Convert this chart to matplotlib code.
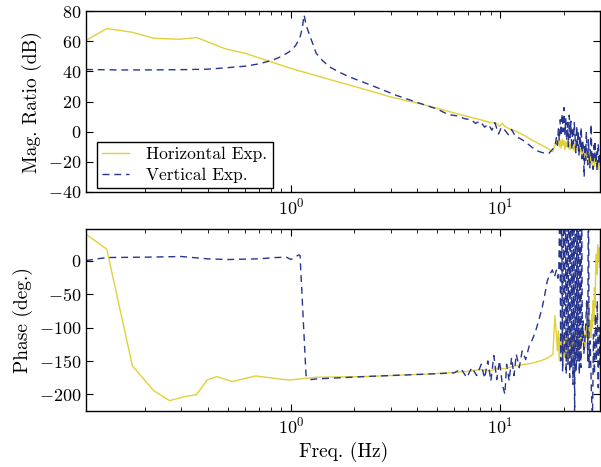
import matplotlib
matplotlib.use("Agg")
import matplotlib.pyplot as plt
from matplotlib.ticker import LogLocator, NullFormatter

plt.rcParams['font.family'] = 'serif'
plt.rcParams['font.serif'] = ['cmr10']
plt.rcParams['mathtext.fontset'] = 'cm'
plt.rcParams['axes.formatter.use_mathtext'] = True

yellow = '#E2D03A'
blue = '#27358F'

# Horizontal exp. - magnitude (dB)
h_freq = [0.105, 0.132, 0.175, 0.222, 0.294, 0.355, 0.486, 0.606, 0.818, 1.0, 1.5, 2.2, 3.0, 4.15,
          5.0, 6.0, 7.0, 8.0, 9.0, 9.6, 9.9, 10.2, 10.5, 11.0, 12.0, 13.0, 14.1, 15.5, 16.5, 17.3,
          17.8, 18.2, 18.5,
          18.7, 18.9, 19.1, 19.3, 19.5, 19.7, 19.9, 20.1, 20.3, 20.5, 20.7, 20.9, 21.1, 21.3, 21.5,
          21.7, 21.9, 22.1, 22.3, 22.5, 22.7, 22.9, 23.1, 23.3, 23.5, 23.7, 23.9, 24.1, 24.3, 24.5,
          24.7, 24.9, 25.1, 25.3, 25.5, 25.7, 25.9, 26.1, 26.3, 26.5, 26.7, 26.9, 27.1, 27.3, 27.5,
          27.7, 27.9, 28.1, 28.3, 28.5, 28.7, 28.9, 29.1, 29.3, 29.5, 29.7, 29.9]
h_mag = [60.5, 68.5, 66, 62, 61.4, 62.5, 55, 52, 46, 42, 35, 28.5, 23, 18.5,
         15.5, 12.5, 10, 8, 6, 5.5, 3.5, 5.5, 3.5, 2, 0, -2.5, -5.5, -8.5, -10.5, -12.5,
         -13.3, -9, -6,
         -9, -5, -10, -6, -11, -5, -9, -6, -12, -7, -10, -5, -11, -7, -12,
         -8, -10, -6, -12, -8, -13, -9, -12, -7, -13, -10, -14, -8, -12, -15,
         -10, -16, -11, -14, -18, -12, -17, -13, -19, -15, -21, -14, -18, -22, -16,
         -20, -15, -23, -18, -21, -17, -24, -19, -25, -18, -22, -20]

# Vertical exp. - magnitude (dB)
v_freq = [0.105, 0.15, 0.2, 0.3, 0.4, 0.486, 0.606, 0.7, 0.818, 0.9, 0.98, 1.05, 1.1, 1.13,
          1.155, 1.18, 1.22, 1.27, 1.32, 1.42, 1.53, 1.7, 1.9, 2.2, 2.5, 3.2, 4.3, 5.0, 5.6, 6.2,
          6.8, 7.25, 7.6, 8.0, 8.4, 8.75, 9.1, 9.4, 9.8, 10.1, 10.5, 10.9, 11.3, 11.8, 12.4, 13.1,
          13.9, 14.7, 15.5, 16.4, 17.0, 17.6, 18.0, 18.3,
          18.5, 18.7, 18.9, 19.1, 19.3, 19.5, 19.7, 19.9, 20.1, 20.3, 20.5, 20.7, 20.9, 21.1, 21.3,
          21.5, 21.7, 21.9, 22.1, 22.3, 22.5, 22.7, 22.9, 23.1, 23.3, 23.5, 23.7, 23.9, 24.1, 24.3,
          24.5, 24.7, 24.9, 25.1, 25.3, 25.5, 25.7, 25.9, 26.1, 26.3, 26.5, 26.7, 26.9, 27.1, 27.3,
          27.5, 27.7, 27.9, 28.1, 28.3, 28.5, 28.7, 28.9, 29.1, 29.3, 29.5, 29.7, 29.9]
v_mag = [41.3, 41, 41, 41.2, 41.5, 42.4, 43.5, 45, 47.5, 50, 53, 57, 62, 68,
         77.5, 71, 65, 58.5, 52, 47, 43, 39.5, 36.4, 33, 30, 24, 18, 15, 11.5, 10.5,
         8.5, 8, 5.5, 7, 3, 5, 1, 6, -1.5, 3, 1, -2, 1.5, -3.3, -4.5, -6.6,
         -9.5, -12.2, -13.5, -14.4, -14.5, -12.2, -10.5, -7.7,
         -4, -9, 2, -6, 8, -3, 12, 0, 16, -2, 9, -6, 6, -10, 11,
         -4, 7, -12, 3, -8, 6, -3, -14, 4, -9, 1, -16, -2, -11, 3,
         -18, -6, -13, -30, -8, -19, 0, -12, -22, -5, -16, -24, -10, 5, -20,
         -13, -25, -9, -17, -6, -21, -12, -26, -14, -8, -22, -15, -19]

# Horizontal exp. - phase (deg)
hp_freq = [0.105, 0.132, 0.175, 0.221, 0.263, 0.311, 0.354, 0.398, 0.442, 0.526, 0.677, 0.785,
           0.895, 1.0, 1.06, 1.32, 2.22, 4.65, 6.75, 8.0, 9.0, 9.8, 10.5, 11.5, 12.5, 14.1, 15.5,
           16.7, 17.3, 17.8, 18.0, 18.2,
           18.5, 18.7, 18.9, 19.1, 19.3, 19.5, 19.7, 19.9, 20.1, 20.3, 20.5, 20.7, 20.9, 21.1,
           21.3, 21.5, 21.7, 21.9, 22.1, 22.3, 22.5, 22.7, 22.9, 23.1, 23.3, 23.5, 23.7, 23.9,
           24.1, 24.3, 24.5, 24.7, 24.9, 25.1, 25.3, 25.5, 25.7, 25.9, 26.1, 26.3, 26.5, 26.7,
           26.9, 27.1, 27.3, 27.5, 27.7, 27.9, 28.1, 28.3, 28.5, 28.7, 28.9, 29.1, 29.3, 29.5,
           29.7, 29.9]
h_phase = [40, 17.5, -157.5, -194.5, -209.5, -203.5, -200.5, -178.5, -173.5, -181, -172.5, -175,
           -177.5, -178.5, -177.5, -174.5, -173.5, -169.5, -166, -163, -165, -160, -162, -158, -156,
           -153.5, -150, -146, -143, -140, -110, -82,
           -110, -135, -105, -150, -115, -140, -100, -160, -120, -145, -110, -135, -115, -150,
           -125, -140, -105, -130, -115, -145, -120, -135, -110, -130, -100, -125, -140, -115,
           -130, -105, -120, -95, -125, -110, -130, -100, -115, -95, -120, -100, -65, -110,
           -90, -115, -80, -100, -60, -90, -40, -70, -10, 10, -20, 24, 0, 20,
           -10, 15]

# Vertical exp. - phase (deg)
vp_freq = [0.105, 0.132, 0.2, 0.3, 0.4, 0.5, 0.7, 0.85, 0.95, 1.0, 1.09, 1.105, 1.18, 1.25,
           1.32, 2.22, 4.65, 6.0, 6.5, 6.9, 7.3, 7.7, 8.1, 8.4, 8.7, 9.0, 9.3, 9.6, 9.9, 10.2,
           10.5, 10.7, 11.0, 11.3, 11.6, 11.9, 12.3, 12.7, 13.2, 13.7, 14.2, 14.7, 15.2, 15.8,
           16.3, 16.7, 17.2, 17.7, 18.1, 18.5, 18.8,
           19.0, 19.2, 19.4, 19.6, 19.8, 20.0, 20.2, 20.4, 20.6, 20.8, 21.0, 21.2, 21.4, 21.6,
           21.8, 22.0, 22.2, 22.4, 22.6, 22.8, 23.0, 23.2, 23.4, 23.6, 23.8, 24.0, 24.2, 24.4,
           24.6, 24.8, 25.0, 25.4, 25.8, 26.1, 26.3, 26.5, 26.8, 27.2, 27.5, 27.8, 28.1, 28.4,
           28.7, 29.0, 29.3, 29.6, 29.9]
v_phase = [0.5, 5, 5.5, 6.5, 3, 2, 3, 5, 5.5, 2, 9, 8, -172, -178,
           -177, -173.5, -169.5, -168, -162, -175, -160, -172, -155, -176, -150, -180, -142, -178,
           -150, -185, -200, -155, -180, -145, -172, -140, -160, -135, -148, -128, -118, -106,
           -90, -71, -50, -31, -20, -13.5, -24, -14, -26,
           -10, 90, -150, 110, -165, 80, -140, 120, -170, 95, -155, 130, -175, 100,
           -160, 115, -185, 90, -245, 105, -165, 125, -150, 100, -170, 85, -160, 110,
           -120, -90, -140, -110, -60, -150, 150, -160, -120, -200, -240, -110, -170, -80,
           -150, -60, -190, -100, -160]

fig = plt.figure(figsize=(6.01, 4.67), dpi=100)
ax1 = fig.add_axes([0.143, 0.589, 0.856, 0.387])
ax2 = fig.add_axes([0.143, 0.120, 0.856, 0.390])

ax1.semilogx(h_freq, h_mag, color=yellow, lw=1.0, label='Horizontal Exp.')
ax1.semilogx(v_freq, v_mag, color=blue, lw=1.0, ls='--', dashes=(5, 3.5), label='Vertical Exp.')
ax1.set_ylim(-40, 80)
ax1.set_yticks([-40, -20, 0, 20, 40, 60, 80])
ax1.set_ylabel('Mag. Ratio (dB)', fontsize=14)
leg = ax1.legend(loc='lower left', bbox_to_anchor=(0.021, 0.022), borderaxespad=0,
                 fontsize=12.5, fancybox=False, framealpha=1, edgecolor='black',
                 handlelength=1.55, handletextpad=1.0, borderpad=0.3, labelspacing=0.3)
leg.get_frame().set_linewidth(1.0)

ax2.semilogx(hp_freq, h_phase, color=yellow, lw=1.0)
ax2.semilogx(vp_freq, v_phase, color=blue, lw=1.0, ls='--', dashes=(5, 3.5))
ax2.set_ylim(-225, 48)
ax2.set_yticks([-200, -150, -100, -50, 0])
ax2.set_ylabel('Phase (deg.)', fontsize=14)
ax2.set_xlabel('Freq. (Hz)', fontsize=14)

for ax in (ax1, ax2):
    ax.set_xlim(0.105, 30)
    ax.xaxis.set_major_locator(LogLocator(base=10))
    ax.xaxis.set_minor_locator(LogLocator(base=10, subs=range(2, 10)))
    ax.xaxis.set_minor_formatter(NullFormatter())
    ax.tick_params(which='both', direction='in', top=True, right=True, labelsize=13)
    ax.tick_params(which='major', length=5)
    ax.tick_params(which='minor', length=3)
    for s in ax.spines.values():
        s.set_linewidth(1.0)

fig.savefig('out.png', dpi=100)
